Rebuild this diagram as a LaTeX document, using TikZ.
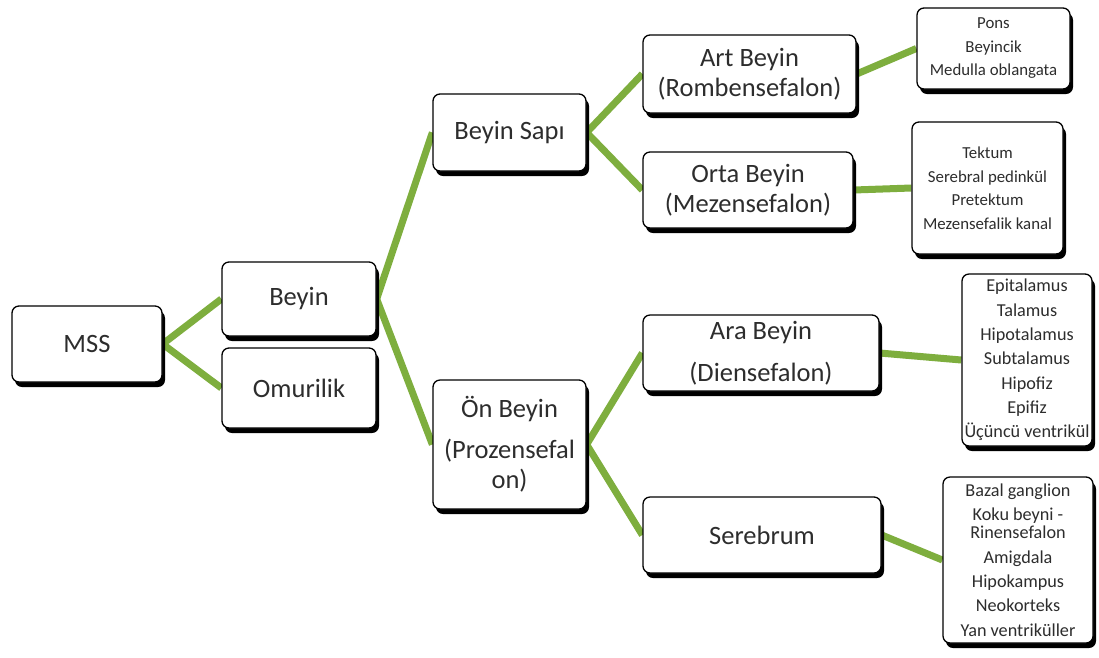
\documentclass[tikz,border=0pt]{standalone}
\usepackage{fontspec}
\setmainfont{Carlito}
\usetikzlibrary{shadows,backgrounds}
\definecolor{lnk}{RGB}{126,174,62}
\definecolor{txt}{RGB}{45,45,45}
\begin{document}
\begin{tikzpicture}[x=1pt,y=-1pt,
  box/.style={draw=black, line width=1.3pt, rounded corners=7pt, fill=white,
    text=txt, align=center, inner sep=0pt,
    drop shadow={shadow xshift=3pt, shadow yshift=-5pt, fill=black, opacity=1}},
  big/.style={font=\fontsize{26.5}{30}\selectfont},
  small/.style={font=\fontsize{16.8}{23.5}\selectfont},
  tiny/.style={font=\fontsize{18.2}{24.3}\selectfont},
  link/.style={draw=lnk, line width=7pt}]
\useasboundingbox (0,0) rectangle (1099,657);
% level 0
\node[box,big,minimum width=150pt,minimum height=76pt] (mss) at (87,344) {MSS};
% level 1
\node[box,big,minimum width=154pt,minimum height=74pt] (beyin) at (299,299) {Beyin};
\node[box,big,minimum width=154pt,minimum height=80pt] (omur) at (299,388) {Omurilik};
% level 2
\node[box,big,minimum width=153pt,minimum height=77pt] (sapi) at (509.5,132.5) {Beyin Sapı};
\node[box,big,minimum width=153pt,minimum height=129pt] (on) at (509.5,444.5) {Ön Beyin\\[11pt](Prozensefal\\on)};
% level 3
\node[box,big,minimum width=213pt,minimum height=78pt] (art) at (749.5,74) {Art Beyin\\(Rombensefalon)};
\node[box,big,minimum width=210pt,minimum height=76pt] (orta) at (748,190) {Orta Beyin\\(Mezensefalon)};
\node[box,big,minimum width=236pt,minimum height=76pt] (ara) at (761,353) {Ara Beyin\\[12pt](Diensefalon)};
\node[box,big,minimum width=238pt,minimum height=76pt] (sereb) at (762,535) {Serebrum};
% level 4
\node[box,small,minimum width=153pt,minimum height=81pt] (pons) at (993.5,48.5) {Pons\\Beyincik\\Medulla oblangata};
\node[box,small,minimum width=151pt,minimum height=132pt] (tekt) at (987.5,188) {Tektum\\Serebral pedinkül\\Pretektum\\Mezensefalik kanal};
\node[box,tiny,minimum width=130pt,minimum height=172pt] (epi) at (1027,360) {Epitalamus\\Talamus\\Hipotalamus\\Subtalamus\\Hipofiz\\Epifiz\\Üçüncü ventrikül};
\node[box,tiny,minimum width=150pt,minimum height=166pt] (bazal) at (1018,560) {Bazal ganglion\\Koku beyni -\\[-6pt]Rinensefalon\\Amigdala\\Hipokampus\\Neokorteks\\Yan ventriküller};
% connectors
\begin{scope}[on background layer]
\fill[white] (0,0) rectangle (1099,657);
\draw[link] (mss.east) -- (beyin.west);
\draw[link] (mss.east) -- (omur.west);
\draw[link] (beyin.east) -- (sapi.west);
\draw[link] (beyin.east) -- (on.west);
\draw[link] (sapi.east) -- (art.west);
\draw[link] (sapi.east) -- (orta.west);
\draw[link] (on.east) -- (ara.west);
\draw[link] (on.east) -- (sereb.west);
\draw[link] (art.east) -- (pons.west);
\draw[link] (orta.east) -- (tekt.west);
\draw[link] (ara.east) -- (epi.west);
\draw[link] (sereb.east) -- (bazal.west);
\end{scope}
\end{tikzpicture}
\end{document}
